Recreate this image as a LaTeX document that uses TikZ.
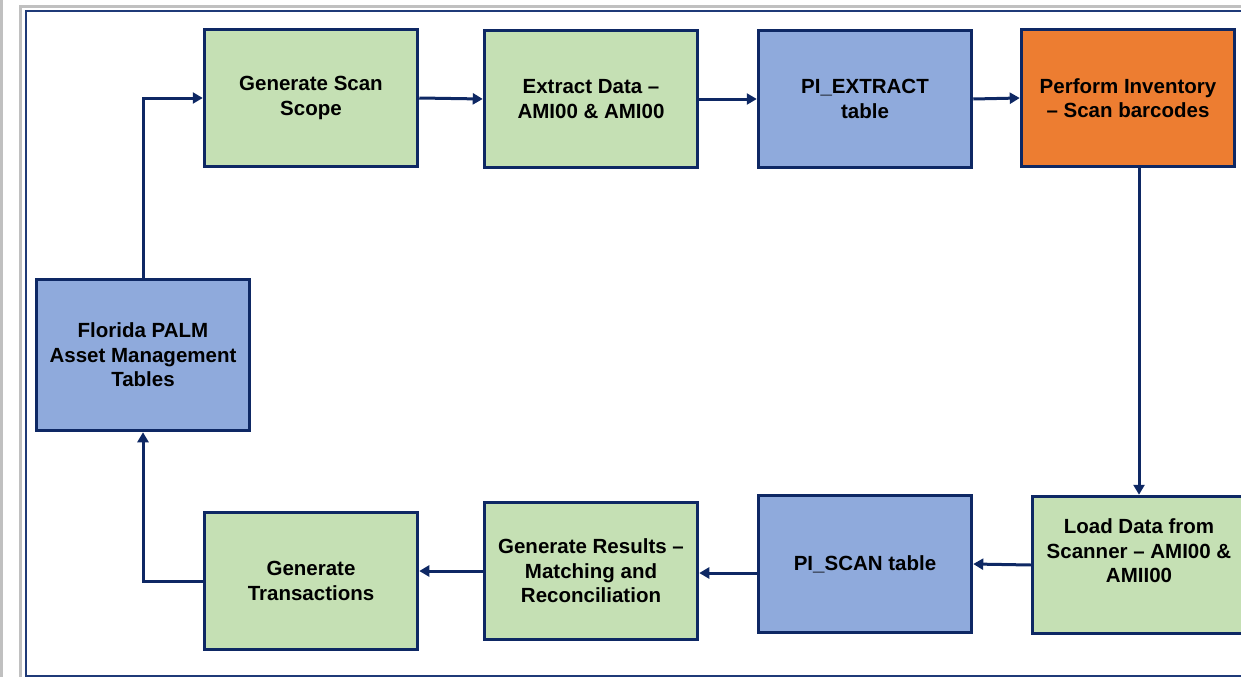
\documentclass[tikz,border=0pt]{standalone}
\usepackage{fontspec}
\setmainfont{Liberation Sans}
\usetikzlibrary{arrows.meta}
\definecolor{navy}{HTML}{0E2864}
\definecolor{boxgreen}{HTML}{C5E0B4}
\definecolor{boxblue}{HTML}{8FAADC}
\definecolor{boxorange}{HTML}{ED7D31}
\definecolor{framegray}{HTML}{C0C0C0}
\definecolor{frameblue}{HTML}{1F3A78}
\tikzset{
  boxfont/.style={font=\fontsize{20.5}{24.5}\selectfont\bfseries, text=black, align=center},
  box/.style={draw=navy, line width=3.5pt, minimum width=213pt, minimum height=137pt,
    inner sep=2pt, boxfont},
  gbox/.style={box, fill=boxgreen},
  bbox/.style={box, fill=boxblue},
  obox/.style={box, fill=boxorange},
  arr/.style={draw=navy, line width=3pt, -{Triangle[length=10pt,width=11pt]}},
}
\begin{document}
\begin{tikzpicture}[x=1pt,y=-1pt]
\useasboundingbox (0,0) rectangle (1241,677);
% frame
\fill[framegray] (0,0) rectangle (3,677);
\fill[framegray] (19,5) rectangle (1241,8);
\fill[framegray] (19,5) rectangle (22,677);
\draw[frameblue, line width=2pt] (1241,11) -- (26,11) -- (26,676) -- (1241,676);
% nodes
\node[gbox] (scope) at (311,98) {Generate Scan\\Scope};
\node[gbox] (extract) at (591,99) {Extract Data –\\AMI00 \& AMI00};
\node[bbox] (piext) at (865,99) {PI\_EXTRACT\\table};
\node[obox] (perform) at (1128,98) {Perform Inventory\\– Scan barcodes};
\node[bbox, minimum height=151pt] (florida) at (143,355) {Florida PALM\\Asset Management\\Tables};
\node[gbox, label={[boxfont, yshift=14pt]center:Load Data from\\Scanner – AMI00 \&\\AMII00}] (load) at (1139,565) {};
\node[bbox] (piscan) at (865,564) {PI\_SCAN table};
\node[gbox] (results) at (591,571) {Generate Results –\\Matching and\\Reconciliation};
\node[gbox] (trans) at (311,581) {Generate\\Transactions};
% connectors
\draw[arr] (florida.north) |- (scope.west);
\draw[arr] (scope.east) -- (extract.west);
\draw[arr] (extract.east) -- (piext.west);
\draw[arr] (piext.east) -- (perform.west);
\draw[arr] (load.north |- perform.south) -- (load.north);
\draw[arr] (load.west) -- (piscan.east);
\draw[arr] ([yshift=-9pt]piscan.west) -- ([yshift=-2pt]results.east);
\draw[arr] (results.west) -- (results.west -| trans.east);
\draw[arr] (trans.west) -| (florida.south);
\end{tikzpicture}
\end{document}
